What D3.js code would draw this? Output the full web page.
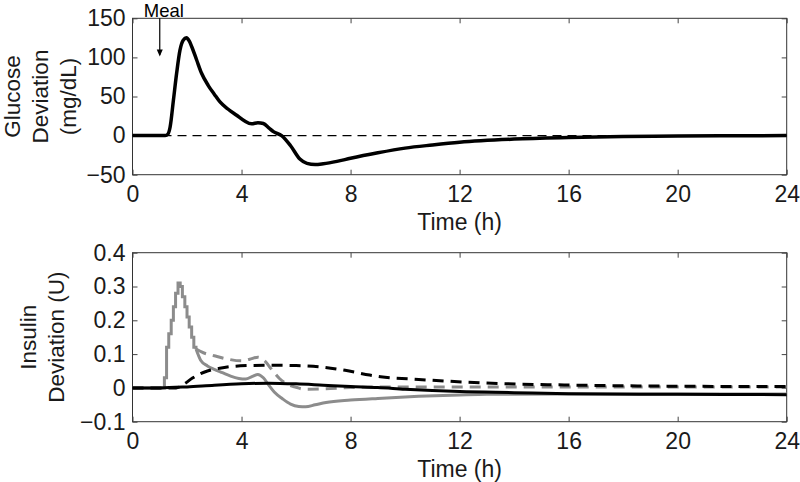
<!DOCTYPE html>
<html>
<head>
<meta charset="utf-8">
<script src="https://cdn.jsdelivr.net/npm/d3@7"></script>
<style>
  body { margin: 0; background: #fff; }
  svg { font-family: "Liberation Sans", Arial, Helvetica, sans-serif; }
  .tick text { fill: #1a1a1a; }
</style>
</head>
<body>
<div id="chart"></div>
<script>
// x ticks shared by both panels (hours)
var timeTicks = [0, 4, 8, 12, 16, 20, 24];
var glucoseTicks = [-50, 0, 50, 100, 150];
var insulinTicks = [-0.1, 0, 0.1, 0.2, 0.3, 0.4];
var mealTime = 1;

// glucose deviation (mg/dL) vs time (h)
var glucose = [
    [0, 0], [1.2, 0], [1.3, 2], [1.38, 11], [1.5, 45], [1.62, 80], [1.74, 109],
    [1.86, 122], [1.98, 125], [2.08, 121], [2.17, 114], [2.35, 97], [2.53, 80],
    [2.78, 64], [3.0, 53], [3.21, 43], [3.5, 34], [3.82, 26], [4.1, 19], [4.37, 15],
    [4.6, 16.5], [4.8, 15.5], [5.0, 10], [5.17, 5], [5.47, 0], [5.8, -13], [6.14, -30],
    [6.4, -35.5], [6.7, -37], [7.0, -36], [7.5, -33], [8, -29], [9, -22], [10, -16],
    [11, -12], [12, -8.5], [14, -4.5], [16, -2.5], [18, -1.2], [20, -0.5], [22, -0.2], [24, 0]
];

// insulin pulse shared by both grey traces (5 min steps)
var pulseSteps = [
    [0, 0], [1.17, 0.03], [1.25, 0.12], [1.33, 0.16], [1.42, 0.2], [1.5, 0.24],
    [1.58, 0.28], [1.67, 0.31], [1.75, 0.3], [1.83, 0.27], [1.92, 0.24], [2.0, 0.21],
    [2.08, 0.18], [2.17, 0.15], [2.25, 0.12], [2.33, 0.115]
];

var greySolid = [
    [2.33, 0.115], [2.5, 0.082], [2.75, 0.065], [3.0, 0.055], [3.3, 0.045], [3.6, 0.035],
    [3.9, 0.028], [4.15, 0.026], [4.4, 0.034], [4.6, 0.04], [4.8, 0.03], [5.0, 0.008],
    [5.2, -0.012], [5.5, -0.032], [5.8, -0.048], [6.1, -0.055], [6.35, -0.056], [6.7, -0.05],
    [7.1, -0.043], [8, -0.036], [9, -0.031], [10.5, -0.025], [12, -0.021], [13, -0.019],
    [16, -0.018], [20, -0.018], [24, -0.018]
];

var greyDashed = [
    [2.33, 0.115], [2.6, 0.104], [3.0, 0.095], [3.5, 0.085], [4.0, 0.08], [4.3, 0.085],
    [4.6, 0.091], [4.85, 0.08], [5.1, 0.055], [5.4, 0.027], [5.7, 0.01], [6.0, 0.002],
    [6.3, -0.004], [7, -0.003], [8, 0.001], [10, 0.003], [12, 0.003], [16, 0.003],
    [20, 0.003], [24, 0.003]
];

var blackDashed = [
    [0, 0], [1.6, 0], [1.9, 0.012], [2.2, 0.029], [2.5, 0.042], [2.75, 0.05], [3.2, 0.058],
    [3.6, 0.063], [4.2, 0.066], [5, 0.067], [6, 0.066], [6.9, 0.062], [7.8, 0.052],
    [8.7, 0.038], [9.1, 0.033], [10.5, 0.025], [12.75, 0.015], [16.4, 0.008], [20, 0.005], [24, 0.004]
];

var blackSolid = [
    [0, 0], [1, 0], [2, 0.003], [3, 0.008], [4, 0.012], [5, 0.014], [6, 0.012], [7, 0.008],
    [8, 0.004], [9, 0.001], [10, -0.004], [11, -0.008], [12, -0.011], [14, -0.014],
    [16, -0.017], [20, -0.019], [24, -0.02]
];

var W = 800, H = 482;
var main = d3.select("#chart").append("svg")
    .attr("width", W)
    .attr("height", H);

function drawPanel(config) {
    var left = 132.5, right = 786.7,
        top = config.top, bottom = config.bottom;

    var x = d3.scaleLinear().domain([0, 24]).range([left, right]),
        y = d3.scaleLinear().domain(config.ydomain).range([bottom, top]);

    var g = main.append("g");

    // box with inward ticks on all sides
    g.append("rect")
        .attr("x", left).attr("y", top)
        .attr("width", right - left).attr("height", bottom - top)
        .style("fill", "none").style("stroke", "#333").style("stroke-width", 1);

    var xb = g.append("g")
        .attr("class", "x axis")
        .attr("transform", "translate(0," + bottom + ")")
        .call(d3.axisBottom(x).tickValues(timeTicks).tickSizeInner(-5).tickSizeOuter(0).tickPadding(11));
    g.append("g")
        .attr("transform", "translate(0," + top + ")")
        .call(d3.axisTop(x).tickValues(timeTicks).tickSizeInner(-5).tickSizeOuter(0).tickFormat(""));
    g.append("g")
        .attr("class", "y axis")
        .attr("transform", "translate(" + left + ",0)")
        .call(d3.axisLeft(y).tickValues(config.yticks).tickSizeInner(-5).tickSizeOuter(0)
            .tickPadding(7).tickFormat(config.format));
    g.append("g")
        .attr("transform", "translate(" + right + ",0)")
        .call(d3.axisRight(y).tickValues(config.yticks).tickSizeInner(-5).tickSizeOuter(0).tickFormat(""));

    g.selectAll(".domain").remove();
    g.selectAll(".tick line").style("stroke", "#444");
    g.selectAll(".tick text").style("font-size", "23px");
    xb.selectAll(".tick text").attr("dy", "0.71em");

    // x label
    g.append("text")
        .attr("x", (left + right) / 2)
        .attr("y", bottom + 55)
        .attr("text-anchor", "middle")
        .style("font-size", "23px")
        .style("fill", "#1a1a1a")
        .text("Time (h)");

    // multi-line rotated y label
    var cy = (top + bottom) / 2;
    config.ylabel.forEach(function(line, i) {
        g.append("text")
            .attr("transform", "translate(" + config.ylabelX[i] + "," + cy + ") rotate(-90)")
            .attr("text-anchor", "middle")
            .style("font-size", "22.5px")
            .style("fill", "#1a1a1a")
            .text(line);
    });

    return {g: g, x: x, y: y};
}

// ---- top panel: glucose
var p1 = drawPanel({
    top: 18.3, bottom: 174.7,
    ydomain: [-50, 150], yticks: glucoseTicks,
    format: d3.format("d"),
    ylabel: ["Glucose", "Deviation", "(mg/dL)"],
    ylabelX: [19.5, 47.5, 75.5]
});

var line1 = d3.line()
    .x(function(d) { return p1.x(d[0]); })
    .y(function(d) { return p1.y(d[1]); })
    .curve(d3.curveMonotoneX);

p1.g.append("line")
    .attr("x1", p1.x(0)).attr("x2", p1.x(24))
    .attr("y1", p1.y(0)).attr("y2", p1.y(0))
    .style("stroke", "#000").style("stroke-width", 1.3)
    .style("stroke-dasharray", "9,6");

p1.g.append("path")
    .datum(glucose)
    .attr("d", line1)
    .style("fill", "none").style("stroke", "#000").style("stroke-width", 3.5)
    .style("stroke-linejoin", "round");

// meal annotation
var mx = p1.x(mealTime);
p1.g.append("line")
    .attr("x1", mx).attr("x2", mx)
    .attr("y1", p1.y(150)).attr("y2", p1.y(103))
    .style("stroke", "#000").style("stroke-width", 1.2);
p1.g.append("path")
    .attr("d", "M" + (mx - 3) + "," + (p1.y(110)) + "L" + mx + "," + p1.y(101) + "L" + (mx + 3) + "," + p1.y(110) + "Z")
    .style("fill", "#000");
p1.g.append("text")
    .attr("x", mx - 16)
    .attr("y", 17)
    .style("font-size", "18.5px")
    .style("fill", "#000")
    .text("Meal");

// ---- bottom panel: insulin
var p2 = drawPanel({
    top: 252.7, bottom: 421.7,
    ydomain: [-0.1, 0.4], yticks: insulinTicks,
    format: function(d) { return d === 0 ? "0" : d3.format(".1f")(d); },
    ylabel: ["Insulin", "Deviation (U)"],
    ylabelX: [36, 64]
});

var line2 = d3.line()
    .x(function(d) { return p2.x(d[0]); })
    .y(function(d) { return p2.y(d[1]); })
    .curve(d3.curveMonotoneX);
var step2 = d3.line()
    .x(function(d) { return p2.x(d[0]); })
    .y(function(d) { return p2.y(d[1]); })
    .curve(d3.curveStepAfter);

var grey = "#8c8c8c";

p2.g.append("path").datum(greyDashed).attr("d", line2)
    .style("fill", "none").style("stroke", grey).style("stroke-width", 3)
    .style("stroke-dasharray", "11,7");
p2.g.append("path").datum(greySolid).attr("d", line2)
    .style("fill", "none").style("stroke", grey).style("stroke-width", 3);
p2.g.append("path").datum(pulseSteps).attr("d", step2)
    .style("fill", "none").style("stroke", grey).style("stroke-width", 3);
p2.g.append("path").datum(blackDashed).attr("d", line2)
    .style("fill", "none").style("stroke", "#000").style("stroke-width", 3)
    .style("stroke-dasharray", "11,7");
p2.g.append("path").datum(blackSolid).attr("d", line2)
    .style("fill", "none").style("stroke", "#000").style("stroke-width", 3);
</script>
</body>
</html>
